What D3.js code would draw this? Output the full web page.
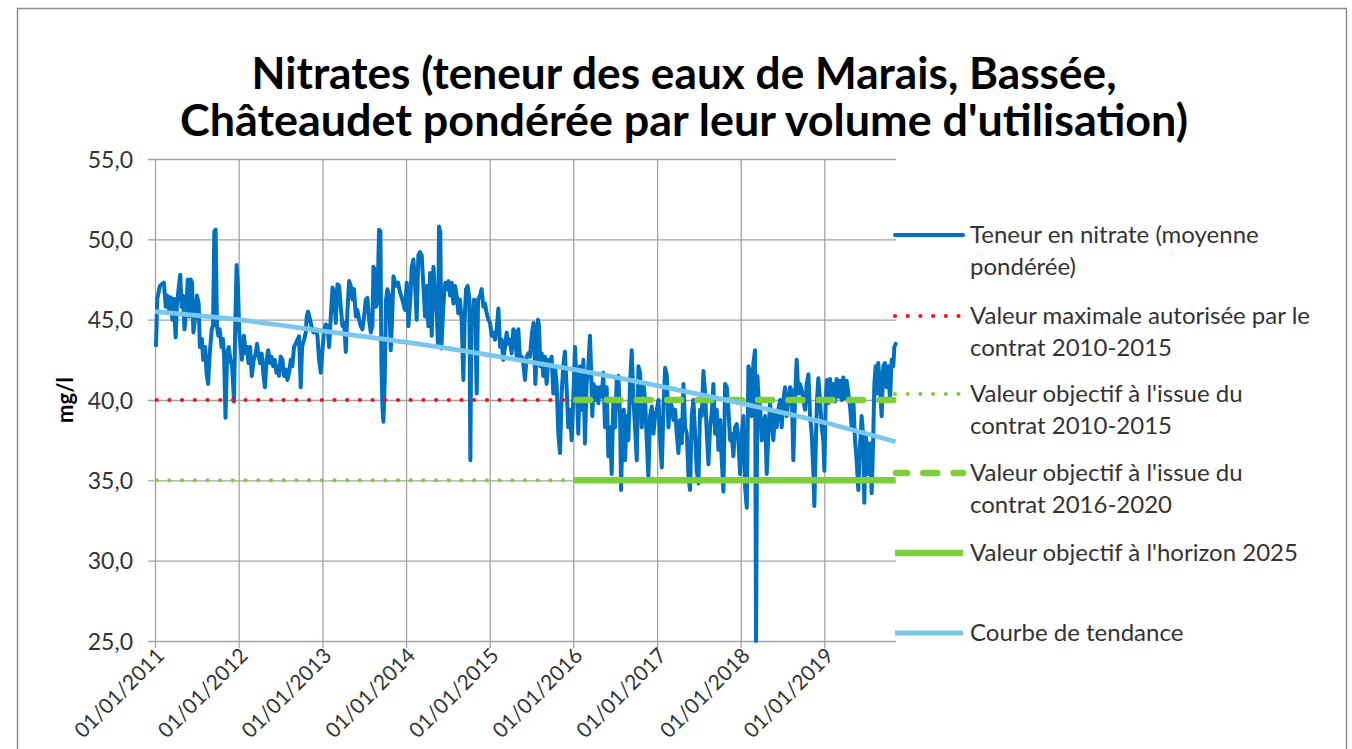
<!DOCTYPE html>
<html><head><meta charset="utf-8">
<script src="https://cdn.jsdelivr.net/npm/d3@7"></script>
<style>body{margin:0;background:#fff} svg{display:block}</style>
</head><body>
<svg id="c" width="1352" height="749"></svg>
<script>
// ---------- DATA ----------
const titleLines = ["Nitrates (teneur des eaux de Marais, Bassée,", "Châteaudet pondérée par leur volume d'utilisation)"];
const yAxisTitle = "mg/l";
const yTicks = [25, 30, 35, 40, 45, 50, 55];
const yDomain = [25, 55];
const xTickYears = [2011, 2012, 2013, 2014, 2015, 2016, 2017, 2018, 2019];
const xDomainYears = [2011.0, 2019.857];

// Teneur en nitrate (moyenne pondérée) : [decimal year, mg/l]
const nitrate = [
[2011.012,43.4],[2011.027,46.3],[2011.059,47.1],[2011.078,47.2],[2011.106,47.3],[2011.129,45.8],[2011.145,46.5],[2011.169,45.6],[2011.184,46.4],[2011.208,45.0],[2011.224,46.3],[2011.247,43.9],[2011.263,46.0],[2011.286,47.1],[2011.302,47.8],[2011.318,45.8],[2011.333,46.5],[2011.353,44.4],[2011.373,45.6],[2011.392,47.5],[2011.412,45.2],[2011.427,47.5],[2011.443,47.3],[2011.459,44.2],[2011.482,45.2],[2011.502,46.5],[2011.522,46.0],[2011.537,43.3],[2011.561,43.8],[2011.576,42.5],[2011.600,43.3],[2011.616,41.7],[2011.635,41.0],[2011.655,42.9],[2011.678,44.4],[2011.694,44.6],[2011.710,50.5],[2011.725,50.6],[2011.741,44.6],[2011.757,44.0],[2011.773,44.4],[2011.796,43.3],[2011.812,43.8],[2011.827,42.7],[2011.843,38.9],[2011.863,42.9],[2011.882,43.3],[2011.902,42.5],[2011.922,42.1],[2011.945,39.9],[2011.961,45.0],[2011.976,48.4],[2011.992,47.1],[2012.008,44.2],[2012.024,43.3],[2012.039,42.5],[2012.063,44.0],[2012.086,42.9],[2012.102,43.3],[2012.118,42.3],[2012.137,43.3],[2012.157,41.5],[2012.180,42.5],[2012.204,42.9],[2012.220,43.5],[2012.235,42.9],[2012.255,42.3],[2012.275,42.9],[2012.294,41.7],[2012.314,40.8],[2012.333,42.5],[2012.353,43.1],[2012.373,42.3],[2012.392,42.7],[2012.412,42.1],[2012.431,42.5],[2012.451,41.7],[2012.471,42.1],
[2012.482,41.5],[2012.502,42.7],[2012.522,42.5],[2012.542,41.5],[2012.562,41.9],[2012.582,41.25],[2012.602,41.7],[2012.622,42.5],[2012.641,42.1],[2012.661,43.3],[2012.681,43.5],[2012.701,43.75],[2012.721,43.96],[2012.741,40.8],[2012.757,43.3],[2012.781,43.75],[2012.801,44.2],[2012.813,45.2],[2012.829,45.5],[2012.853,45.0],[2012.869,44.6],[2012.892,44.2],[2012.920,44.4],[2012.940,44.0],[2012.960,42.5],[2012.980,41.7],[2013.000,43.1],[2013.020,44.4],[2013.040,44.7],[2013.060,44.6],[2013.080,43.3],[2013.100,45.2],[2013.120,47.0],[2013.139,46.7],[2013.159,44.8],[2013.179,47.2],[2013.199,47.1],[2013.219,45.8],[2013.239,44.6],[2013.259,44.8],[2013.279,43.0],[2013.299,45.6],[2013.319,47.4],[2013.339,47.1],[2013.359,46.25],[2013.378,46.9],[2013.398,45.2],[2013.418,45.6],[2013.438,45.0],[2013.458,44.6],[2013.478,44.4],[2013.498,45.2],[2013.518,46.25],[2013.538,46.35],[2013.558,45.0],[2013.578,44.2],[2013.598,44.6],[2013.610,48.3],[2013.625,48.1],[2013.641,45.8],[2013.657,46.0],[2013.677,50.6],[2013.693,50.5],[2013.705,42.3],[2013.717,39.6],[2013.729,38.65],[2013.745,41.25],[2013.761,46.25],[2013.777,46.9],[2013.797,46.5],[2013.817,43.1],[2013.833,45.0],[2013.849,47.7],[2013.876,47.1],[2013.904,47.3],[2013.928,46.7],[2013.956,46.25],[2013.976,45.8],
[2013.988,45.6],[2014.008,47.3],[2014.028,44.6],[2014.048,46.0],[2014.068,48.3],[2014.088,48.75],[2014.108,47.1],[2014.127,45.0],[2014.147,49.0],[2014.167,49.2],[2014.187,49.0],[2014.207,47.1],[2014.227,45.2],[2014.247,47.1],[2014.267,44.6],[2014.287,47.9],[2014.307,44.0],[2014.327,48.3],[2014.347,46.5],[2014.367,45.4],[2014.382,43.3],[2014.394,50.8],[2014.410,50.4],[2014.422,43.2],[2014.438,45.0],[2014.454,46.5],[2014.470,47.3],[2014.486,46.9],[2014.506,47.4],[2014.526,46.5],[2014.546,47.3],[2014.566,46.0],[2014.586,47.1],[2014.606,46.5],[2014.625,45.4],[2014.645,46.25],[2014.665,45.0],[2014.685,41.25],[2014.701,45.0],[2014.717,46.9],[2014.737,47.1],[2014.757,46.25],[2014.769,36.25],[2014.781,45.4],[2014.797,45.0],[2014.813,46.25],[2014.829,44.6],[2014.845,40.4],[2014.861,46.25],[2014.884,46.5],[2014.904,46.9],[2014.924,45.8],[2014.944,46.0],[2014.964,45.4],[2014.984,45.0],[2015.004,44.8],[2015.024,44.0],[2015.044,44.2],[2015.064,43.75],[2015.084,44.4],[2015.104,45.7],[2015.124,43.3],[2015.143,43.75],[2015.163,42.5],[2015.183,43.3],[2015.203,44.2],[2015.223,43.5],[2015.243,43.75],[2015.263,42.9],[2015.283,44.4],[2015.303,44.2],[2015.323,42.7],[2015.343,44.4],[2015.363,42.5],[2015.382,42.7],[2015.402,42.3],[2015.422,41.25],[2015.442,42.7],[2015.462,42.9],[2015.482,42.7],
[2015.506,44.2],[2015.526,44.8],[2015.546,41.0],[2015.566,43.1],[2015.578,45.0],[2015.590,44.6],[2015.606,42.1],[2015.622,42.9],[2015.641,41.5],[2015.661,42.7],[2015.681,41.0],[2015.701,42.5],[2015.721,42.1],[2015.741,42.7],[2015.761,40.4],[2015.781,42.1],[2015.801,41.0],[2015.821,37.9],[2015.841,36.7],[2015.861,40.4],[2015.880,42.1],[2015.900,43.0],[2015.920,40.8],[2015.940,38.3],[2015.960,39.4],[2015.980,37.5],[2016.000,40.0],[2016.020,43.3],[2016.040,41.0],[2016.060,37.9],[2016.080,42.1],[2016.100,39.4],[2016.120,42.5],[2016.139,37.3],[2016.159,41.0],[2016.179,42.1],[2016.199,44.0],[2016.211,42.1],[2016.227,39.0],[2016.243,41.0],[2016.259,40.0],[2016.279,40.8],[2016.299,39.8],[2016.319,40.8],[2016.339,40.2],[2016.359,41.7],[2016.378,38.3],[2016.398,40.8],[2016.418,36.5],[2016.438,38.3],[2016.458,35.4],[2016.478,40.0],[2016.498,38.3],[2016.518,41.25],[2016.538,41.5],[2016.558,39.0],[2016.570,34.4],[2016.586,37.9],[2016.602,39.4],[2016.618,36.25],[2016.637,39.0],[2016.657,37.5],[2016.677,41.0],[2016.697,43.1],[2016.717,40.0],[2016.737,38.3],[2016.757,36.25],[2016.777,42.1],[2016.797,41.7],[2016.817,38.3],[2016.837,41.0],[2016.857,40.0],[2016.876,37.5],[2016.896,35.2],[2016.916,39.0],[2016.936,39.6],[2016.956,37.9],[2016.976,39.0],
[2016.996,39.4],[2017.016,40.0],[2017.036,37.5],[2017.056,35.8],[2017.076,39.6],[2017.096,42.0],[2017.116,41.5],[2017.135,38.3],[2017.155,40.0],[2017.175,39.6],[2017.195,38.75],[2017.215,39.4],[2017.235,37.9],[2017.255,36.7],[2017.275,38.75],[2017.295,37.3],[2017.315,41.0],[2017.335,38.3],[2017.355,37.9],[2017.375,35.2],[2017.394,34.4],[2017.414,39.0],[2017.434,40.0],[2017.454,37.9],[2017.474,35.6],[2017.494,34.8],[2017.514,39.4],[2017.534,39.0],[2017.554,41.8],[2017.574,40.4],[2017.594,37.9],[2017.614,36.0],[2017.633,38.3],[2017.653,39.2],[2017.673,41.0],[2017.693,37.9],[2017.713,39.4],[2017.733,36.9],[2017.753,38.75],[2017.773,36.25],[2017.793,34.3],[2017.813,41.0],[2017.833,40.8],[2017.853,39.4],[2017.873,37.5],[2017.892,37.9],[2017.912,36.5],[2017.932,38.3],[2017.952,38.5],[2017.972,37.5],[2017.992,35.4],[2018.012,37.9],[2018.032,39.0],[2018.052,34.6],[2018.072,33.3],[2018.092,42.1],[2018.112,41.7],[2018.131,39.0],[2018.151,42.3],[2018.171,43.1],[2018.183,25.0],[2018.199,41.5],[2018.215,40.0],[2018.231,39.6],[2018.251,37.5],[2018.271,38.3],[2018.291,39.0],[2018.311,35.4],[2018.331,37.9],[2018.351,39.8],[2018.371,38.75],[2018.390,37.5],[2018.410,39.2],[2018.430,38.3],[2018.450,39.4],[2018.470,40.0],
[2018.490,38.3],[2018.510,40.0],[2018.530,40.8],[2018.550,39.0],[2018.570,40.0],[2018.590,40.8],[2018.610,40.6],[2018.629,36.25],[2018.649,40.0],[2018.669,42.5],[2018.689,40.4],[2018.709,41.0],[2018.729,40.6],[2018.749,40.0],[2018.769,39.4],[2018.789,41.0],[2018.809,41.6],[2018.829,39.0],[2018.849,37.9],[2018.869,35.4],[2018.880,33.4],[2018.896,36.9],[2018.912,40.0],[2018.928,41.35],[2018.948,40.0],[2018.968,38.3],[2018.988,37.5],[2019.000,35.6],[2019.016,40.0],[2019.032,41.25],[2019.048,39.8],[2019.068,41.3],[2019.088,40.0],[2019.108,41.0],[2019.127,39.9],[2019.147,41.3],[2019.167,40.2],[2019.187,41.2],[2019.207,40.0],[2019.227,41.4],[2019.247,40.1],[2019.267,41.2],[2019.287,40.4],[2019.307,39.6],[2019.327,38.3],[2019.347,40.0],[2019.367,37.5],[2019.386,36.25],[2019.406,34.4],[2019.426,37.1],[2019.446,39.0],[2019.466,37.7],[2019.478,33.6],[2019.494,37.9],[2019.510,36.9],[2019.526,35.4],[2019.546,37.3],[2019.566,34.2],[2019.586,37.9],[2019.598,41.0],[2019.614,42.1],[2019.629,40.4],[2019.645,42.3],[2019.665,41.0],[2019.685,39.0],[2019.705,42.1],[2019.725,42.3],[2019.745,40.8],[2019.765,42.1],[2019.785,40.0],[2019.805,42.5],[2019.825,42.1],[2019.837,43.3],[2019.853,43.5]
];

// Courbe de tendance : [decimal year, mg/l]
const trend = [[2011.0,45.5],[2012.0,45.0],[2013.0,44.3],[2014.0,43.6],[2015.0,42.8],[2016.0,41.9],[2017.0,40.9],[2018.0,39.8],[2019.0,38.6],[2019.853,37.4]];

// Reference levels : value and year span
const refMax2015   = {value: 40, from: 2011.0, to: 2015.999};
const refObj2015   = {value: 35, from: 2011.0, to: 2015.999};
const refObj2020   = {value: 40, from: 2016.0, to: 2019.853};
const refObj2025   = {value: 35, from: 2016.0, to: 2019.853};

const legendLabels = [
  ["Teneur en nitrate (moyenne", "pondérée)"],
  ["Valeur maximale autorisée par le", "contrat 2010-2015"],
  ["Valeur objectif à l'issue du", "contrat 2010-2015"],
  ["Valeur objectif à l'issue du", "contrat 2016-2020"],
  ["Valeur objectif à l'horizon 2025"],
  ["Courbe de tendance"]
];

// ---------- STYLES ----------
const FONT = "Lato, 'Open Sans', sans-serif";
const C = {blue: "#0070c0", trend: "#7ac7ee", red: "#ff1010", green: "#7dcf3a", grid: "#a3a3a3", text: "#333333"};
const styles = [
  {stroke: C.blue, width: 4, dash: null, cap: "round"},
  {stroke: C.red, width: 4.2, dash: "0 12.7", cap: "round"},
  {stroke: C.green, width: 4.2, dash: "0 12.7", cap: "round"},
  {stroke: C.green, width: 6.5, dash: "14 16.3", cap: "round"},
  {stroke: C.green, width: 6.5, dash: null, cap: "butt"},
  {stroke: C.trend, width: 4.8, dash: null, cap: "butt"}
];

// ---------- CHART ----------
const svg = d3.select("#c");
const P = {left: 155, right: 896, top: 159, bottom: 641};

function yearToDate(v) {
  const yr = Math.floor(v);
  const a = new Date(yr, 0, 1), b = new Date(yr + 1, 0, 1);
  return new Date(+a + (v - yr) * (b - a));
}

const x = d3.scaleTime().domain(xDomainYears.map(yearToDate)).range([P.left, P.right]);
const y = d3.scaleLinear().domain(yDomain).range([P.bottom, P.top]);

// frame
svg.append("rect").attr("x", 17.5).attr("y", 8.5).attr("width", 1329).attr("height", 800)
  .attr("fill", "#fff").attr("stroke", "#8f8f8f").attr("stroke-width", 1.5);

// title
const tWidths = [865, 1008];
svg.append("g").selectAll("text").data(titleLines).join("text")
  .attr("x", 684).attr("y", (d, i) => 89 + i * 47)
  .attr("text-anchor", "middle")
  .attr("font-family", FONT).attr("font-weight", 700).attr("font-size", 44)
  .attr("fill", "#000")
  .attr("textLength", (d, i) => tWidths[i]).attr("lengthAdjust", "spacingAndGlyphs")
  .text(d => d);

// y axis + horizontal gridlines
const locale = d3.formatLocale({decimal: ",", thousands: " ", grouping: [3], currency: ["", " €"]});
const fmtY = locale.format(".1f");
const gy = svg.append("g").attr("transform", `translate(${P.left},0)`)
  .call(d3.axisLeft(y).tickValues(yTicks).tickFormat(fmtY)
    .tickSizeInner(-(P.right - P.left)).tickSizeOuter(0).tickPadding(22));
gy.select(".domain").remove();
gy.selectAll(".tick line").attr("x1", -7).attr("stroke", C.grid).attr("stroke-width", 1.3);
gy.selectAll(".tick text").attr("font-family", FONT).attr("font-size", 23).attr("fill", C.text).attr("dy", "0.36em");

// x axis + vertical gridlines
const fmtX = d3.timeFormat("%d/%m/%Y");
const gx = svg.append("g").attr("transform", `translate(0,${P.bottom})`)
  .call(d3.axisBottom(x).tickValues(xTickYears.map(yr => new Date(yr, 0, 1))).tickFormat(fmtX)
    .tickSizeInner(-(P.bottom - P.top)).tickSizeOuter(0));
gx.select(".domain").remove();
gx.selectAll(".tick line").attr("y1", 7).attr("stroke", C.grid).attr("stroke-width", 1.3);
gx.selectAll(".tick text")
  .attr("x", 0).attr("y", 0).attr("dy", null)
  .attr("transform", "translate(10,16) rotate(-45)")
  .attr("text-anchor", "end")
  .attr("font-family", FONT).attr("font-size", 21).attr("fill", C.text);

// y axis title
svg.append("text").attr("transform", "translate(73,400) rotate(-90)")
  .attr("text-anchor", "middle").attr("font-family", FONT).attr("font-weight", 700)
  .attr("font-size", 22).attr("fill", "#000").text(yAxisTitle);

// series
const line = d3.line().x(d => x(yearToDate(d[0]))).y(d => y(d[1]));
const applyStyle = (sel, s) => sel.attr("fill", "none").attr("stroke", s.stroke)
  .attr("stroke-width", s.width).attr("stroke-dasharray", s.dash).attr("stroke-linecap", s.cap)
  .attr("stroke-linejoin", "round");
const refPts = r => [[r.from, r.value], [r.to, r.value]];

applyStyle(svg.append("path").attr("d", line(nitrate)), styles[0]);
applyStyle(svg.append("path").attr("d", line(refPts(refMax2015))), styles[1]).attr("stroke-dashoffset", -1.7);
applyStyle(svg.append("path").attr("d", line(refPts(refObj2015))), styles[2]).attr("stroke-dashoffset", -1.7);
applyStyle(svg.append("path").attr("d", line(refPts(refObj2020))), styles[3]).attr("stroke-dashoffset", -3);
applyStyle(svg.append("path").attr("d", line(refPts(refObj2025))), styles[4]);
applyStyle(svg.append("path").attr("d", d3.line().curve(d3.curveMonotoneX)
  .x(d => x(yearToDate(d[0]))).y(d => y(d[1]))(trend)), styles[5]);

// legend
const legY = [235, 316, 394, 473, 553, 633];
const lg = svg.append("g");
legendLabels.forEach((lines, i) => {
  const s = styles[i];
  const sx1 = i === 3 ? 896 : 895, sx2 = 963;
  applyStyle(lg.append("line").attr("x1", sx1).attr("x2", sx2).attr("y1", legY[i]).attr("y2", legY[i]), s)
    .attr("stroke-dashoffset", i === 3 ? 3 : 0);
  lines.forEach((t, j) => {
    lg.append("text").attr("x", 970).attr("y", legY[i] + 8 + j * 32)
      .attr("font-family", FONT).attr("font-size", 24).attr("fill", C.text).text(t);
  });
});
</script>
</body></html>
